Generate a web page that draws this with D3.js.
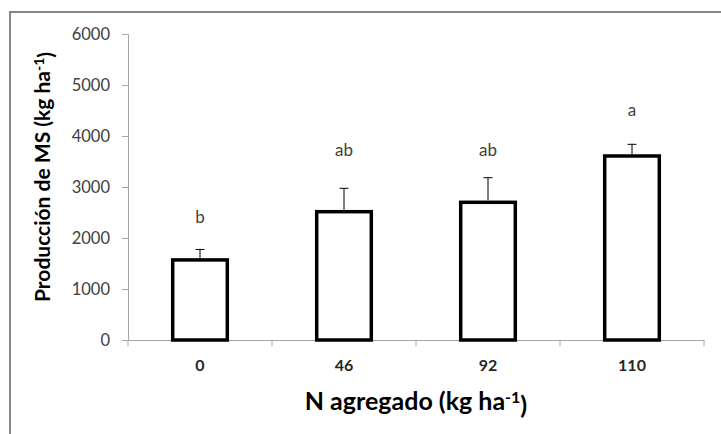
<!DOCTYPE html>
<html>
<head>
<meta charset="utf-8">
<script src="https://cdn.jsdelivr.net/npm/d3@7"></script>
<style>
  body { margin: 0; background: #fff; }
  text { font-family: Lato, "Open Sans", sans-serif; }
</style>
</head>
<body>
<div id="chart"></div>
<script>
// data
var categories = ["0", "46", "92", "110"];
var means = [1570, 2516, 2700, 3608];
var errors = [205, 458, 482, 229];
var letters = ["b", "ab", "ab", "a"];
var letterY = [2410, 3720, 3720, 4510];   // where the letters sit, in kg/ha
var yTicks = [0, 1000, 2000, 3000, 4000, 5000, 6000];

var W = 721, H = 434;
var margin = {top: 34, right: 17, bottom: 94, left: 128},
    width = W - margin.left - margin.right,
    height = H - margin.top - margin.bottom;

var root = d3.select("#chart")
    .append("svg")
    .attr("width", W)
    .attr("height", H);

// outer chart border (runs off the right and bottom edges)
root.append("rect")
    .attr("x", 10).attr("y", 12)
    .attr("width", 800).attr("height", 500)
    .attr("fill", "none")
    .attr("stroke", "#868686")
    .attr("stroke-width", 2);

var svg = root.append("g")
    .attr("transform", "translate(" + margin.left + "," + margin.top + ")");

var x = d3.scaleBand()
    .domain(categories)
    .range([0, width])
    .paddingInner(0.6)
    .paddingOuter(0.3);

var y = d3.scaleLinear()
    .domain([0, 6000])
    .range([height, 0]);

// Y axis
var yAxis = svg.append("g")
    .call(d3.axisLeft(y).tickValues(yTicks).tickFormat(d3.format("d"))
        .tickSize(6).tickPadding(12));
yAxis.select(".domain").attr("stroke", "#a6a6a6");
yAxis.selectAll(".tick line").attr("stroke", "#a6a6a6");
yAxis.selectAll("text")
    .style("font-size", "16.5px")
    .attr("fill", "#404040");

// X axis: ticks at category boundaries
var xAxis = svg.append("g")
    .attr("transform", "translate(0," + height + ")")
    .call(d3.axisBottom(x).tickSize(0).tickPadding(20));
xAxis.select(".domain").attr("stroke", "#a6a6a6");
xAxis.selectAll("text")
    .style("font-size", "16px")
    .style("font-weight", "bold")
    .attr("fill", "#262626");

var bounds = categories.map(function (c) {
    return x(c) - x.step() * x.paddingInner() / 2;
});
bounds.push(width);
xAxis.selectAll(".bound")
    .data(bounds)
    .enter()
    .append("line")
    .attr("x1", function (d) { return d; })
    .attr("x2", function (d) { return d; })
    .attr("y1", 0)
    .attr("y2", 6)
    .attr("stroke", "#a6a6a6");

// Bars
svg.selectAll(".bar")
    .data(means)
    .enter()
    .append("rect")
    .attr("x", function (d, i) { return x(categories[i]) + 1.5; })
    .attr("y", function (d) { return y(d); })
    .attr("width", x.bandwidth() - 3)
    .attr("height", function (d) { return height - y(d); })
    .attr("fill", "#fff")
    .attr("stroke", "#000")
    .attr("stroke-width", 3.5);

// Error bars (upper only)
var err = svg.selectAll(".err")
    .data(means)
    .enter()
    .append("g");
err.append("line")
    .attr("x1", function (d, i) { return x(categories[i]) + x.bandwidth() / 2; })
    .attr("x2", function (d, i) { return x(categories[i]) + x.bandwidth() / 2; })
    .attr("y1", function (d) { return y(d) - 2; })
    .attr("y2", function (d, i) { return y(d + errors[i]); })
    .attr("stroke", "#000")
    .attr("stroke-width", 1);
err.append("line")
    .attr("x1", function (d, i) { return x(categories[i]) + x.bandwidth() / 2 - 4.5; })
    .attr("x2", function (d, i) { return x(categories[i]) + x.bandwidth() / 2 + 4.5; })
    .attr("y1", function (d, i) { return y(d + errors[i]); })
    .attr("y2", function (d, i) { return y(d + errors[i]); })
    .attr("stroke", "#000")
    .attr("stroke-width", 1);

// Significance letters
svg.selectAll(".letter")
    .data(letters)
    .enter()
    .append("text")
    .attr("x", function (d, i) { return x(categories[i]) + x.bandwidth() / 2; })
    .attr("y", function (d, i) { return y(letterY[i]); })
    .attr("dy", "0.35em")
    .attr("text-anchor", "middle")
    .style("font-size", "17px")
    .attr("fill", "#404040")
    .text(function (d) { return d; });

// Axis titles
var yt = root.append("text")
    .attr("transform", "translate(50,177)rotate(-90)")
    .attr("text-anchor", "middle")
    .style("font-size", "21px")
    .style("font-weight", "bold")
    .attr("fill", "#000");
yt.append("tspan").text("Producción de MS (kg ha");
yt.append("tspan").attr("dy", "-0.45em").style("font-size", "14px").text("-1");
yt.append("tspan").attr("dy", "0.45em").text(")");

var xt = root.append("text")
    .attr("x", 416)
    .attr("y", 410)
    .attr("text-anchor", "middle")
    .style("font-size", "25px")
    .style("font-weight", "bold")
    .attr("fill", "#000");
xt.append("tspan").text("N agregado (kg ha");
xt.append("tspan").attr("dy", "-0.45em").style("font-size", "16px").text("-1");
xt.append("tspan").attr("dy", "0.45em").text(")");
</script>
</body>
</html>
